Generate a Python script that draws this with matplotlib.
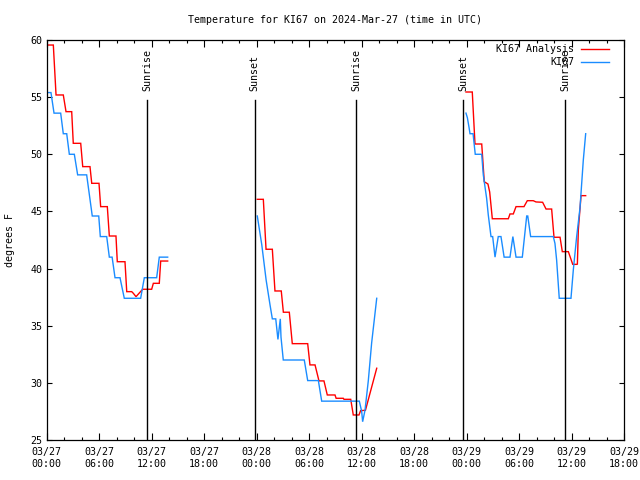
import matplotlib
matplotlib.use("Agg")
import matplotlib.pyplot as plt
import matplotlib.transforms as mtransforms

# ---------------- data (hours since 2024-03-27 00:00 UTC, degrees F) ----------------
red_t1 = [0.21, 0.78, 1.09, 1.92, 2.23, 2.88, 3.06, 3.91, 4.14, 4.97, 5.17, 6.0, 6.19, 6.95,
          7.18, 7.94, 8.09, 8.97, 9.17, 9.74, 9.92, 10.23, 10.99, 12.02, 12.21, 12.89, 13.05, 13.85]
red_v1 = [59.56, 59.56, 55.19, 55.19, 53.73, 53.73, 50.96, 50.96, 48.92, 48.92, 47.46, 47.46, 45.42, 45.42,
          42.85, 42.85, 40.6, 40.6, 37.98, 37.98, 37.84, 37.54, 38.19, 38.19, 38.71, 38.71, 40.66, 40.66]

blue_t1 = [0.21, 0.51, 0.86, 1.62, 1.92, 2.31, 2.61, 3.18, 3.56, 4.59, 5.23, 5.97, 6.15, 6.88,
           7.18, 7.50, 7.83, 8.40, 8.89, 10.76, 11.18, 12.59, 12.89, 13.85]
blue_v1 = [55.4, 55.4, 53.6, 53.6, 51.8, 51.8, 50.0, 50.0, 48.2, 48.2, 44.6, 44.6, 42.8, 42.8,
           41.0, 41.0, 39.2, 39.2, 37.4, 37.4, 39.2, 39.2, 41.0, 41.0]

red_t2 = [24.09, 24.78, 25.09, 25.81, 26.11, 26.83, 27.07, 27.75, 28.09, 29.85, 30.11, 30.69,
          31.14, 31.71, 32.09, 32.97, 33.10, 33.92, 34.0, 34.77, 35.06, 35.71, 35.90, 36.45, 37.74]
red_v2 = [46.06, 46.06, 41.69, 41.69, 38.04, 38.04, 36.18, 36.18, 33.43, 33.43, 31.57, 31.57,
          30.17, 30.17, 28.94, 28.94, 28.65, 28.65, 28.56, 28.56, 27.19, 27.19, 27.57, 27.6, 31.28]

blue_t2 = [24.09, 24.6, 25.1, 25.55, 25.81, 26.2, 26.45, 26.6, 26.72, 26.8, 27.06, 29.46, 29.85,
           31.07, 31.45, 35.75, 36.02, 36.13, 36.4, 36.78, 37.16, 37.74]
blue_v2 = [44.6, 42.1, 39.0, 36.8, 35.6, 35.6, 33.8, 34.8, 35.6, 34.0, 32.0, 32.0, 30.2,
           30.2, 28.4, 28.4, 27.5, 26.6, 27.6, 30.2, 33.5, 37.4]

red_t3 = [47.94, 48.66, 48.97, 49.74, 50.03, 50.45, 50.65, 50.95, 52.78, 52.97, 53.35, 53.66,
          54.57, 54.95, 55.63, 55.94, 56.7, 57.09, 57.73, 58.0, 58.69, 58.95, 59.64, 60.14,
          60.67, 60.78, 61.09, 61.62]
red_v3 = [55.45, 55.45, 50.9, 50.9, 47.6, 47.4, 46.7, 44.36, 44.36, 44.78, 44.78, 45.42,
          45.42, 45.94, 45.94, 45.83, 45.8, 45.21, 45.21, 42.74, 42.74, 41.48, 41.48, 40.37,
          40.37, 43.38, 46.38, 46.38]

blue_t3 = [47.94, 48.1, 48.3, 48.4, 48.75, 49.0, 49.74, 49.92, 50.03, 50.3, 50.49, 50.8, 50.99,
           51.26, 51.63, 51.94, 52.3, 52.97, 53.3, 53.66, 54.38, 54.88, 55.0, 55.33, 57.92,
           58.11, 58.3, 58.6, 59.94, 60.21, 60.59, 60.97, 61.35, 61.62]
blue_v3 = [53.6, 53.2, 52.3, 51.8, 51.8, 50.0, 50.0, 48.2, 47.6, 46.15, 44.69, 42.8, 42.8,
           41.0, 42.8, 42.8, 41.0, 41.0, 42.8, 41.0, 41.0, 44.6, 44.6, 42.8, 42.8,
           42.2, 40.75, 37.4, 37.4, 39.9, 42.8, 45.3, 49.5, 51.8]

event_hours = [11.52, 23.79, 35.41, 47.63, 59.29]
event_labels = ["Sunrise", "Sunset", "Sunrise", "Sunset", "Sunrise"]

xtick_hours = [0, 6, 12, 18, 24, 30, 36, 42, 48, 54, 60, 66]
xtick_labels = ["03/27\n00:00", "03/27\n06:00", "03/27\n12:00", "03/27\n18:00",
                "03/28\n00:00", "03/28\n06:00", "03/28\n12:00", "03/28\n18:00",
                "03/29\n00:00", "03/29\n06:00", "03/29\n12:00", "03/29\n18:00"]
ytick_values = [25, 30, 35, 40, 45, 50, 55, 60]

series_names = ["KI67 Analysis", "KI67"]
red_color = "#ff0000"
blue_color = "#1a8cff"

# ---------------- figure ----------------
plt.rcParams['font.family'] = ['DejaVu Sans Mono']
FS = 7.2

fig = plt.figure(figsize=(6.4, 4.8), dpi=100)
ax = fig.add_axes([46.5 / 640, 40 / 480, (624 - 46.5) / 640, 400 / 480])

for t, v in [(red_t1, red_v1), (red_t2, red_v2), (red_t3, red_v3)]:
    ax.plot(t, v, color=red_color, lw=1.0, solid_joinstyle='miter')
for t, v in [(blue_t1, blue_v1), (blue_t2, blue_v2), (blue_t3, blue_v3)]:
    ax.plot(t, v, color=blue_color, lw=1.0, solid_joinstyle='miter')

trans = mtransforms.blended_transform_factory(ax.transData, ax.transAxes)
for h, lab in zip(event_hours, event_labels):
    ax.plot([h, h], [0, 0.85], transform=trans, color='black', lw=1.0)
    ax.text(h, 0.872, lab, transform=trans, rotation=90, ha='center', va='bottom',
            fontsize=FS)

ax.set_xlim(0, 66)
ax.set_ylim(25, 60)
ax.set_xticks(xtick_hours)
ax.set_xticklabels(xtick_labels, fontsize=FS, linespacing=1.25)
ax.set_xticks(range(0, 67, 2), minor=True)
ax.set_yticks(ytick_values)
ax.set_yticklabels([str(v) for v in ytick_values], fontsize=FS)
ax.tick_params(axis='both', which='both', direction='in', top=True, right=True)
ax.tick_params(axis='x', which='major', length=5, width=0.8, pad=5)
ax.tick_params(axis='x', which='minor', length=2.5, width=0.8)
ax.tick_params(axis='y', which='major', length=3.6, width=0.8, pad=3)
for s in ax.spines.values():
    s.set_linewidth(0.9)

# legend (manual, gnuplot style)
leg_y = [0.9775, 0.944]
for y, name, col in zip(leg_y, series_names, [red_color, blue_color]):
    ax.plot([0.9255, 0.9745], [y, y], transform=ax.transAxes, color=col, lw=1.0)
    ax.text(0.914, y, name, transform=ax.transAxes, ha='right', va='center', fontsize=FS)

fig.text(335 / 640, 1 - 20 / 480, "Temperature for KI67 on 2024-Mar-27 (time in UTC)",
         ha='center', va='center', fontsize=FS)
fig.text(10 / 640, 0.5, "degrees F", rotation=90, ha='center', va='center', fontsize=FS)

fig.savefig("out.png", dpi=100)
